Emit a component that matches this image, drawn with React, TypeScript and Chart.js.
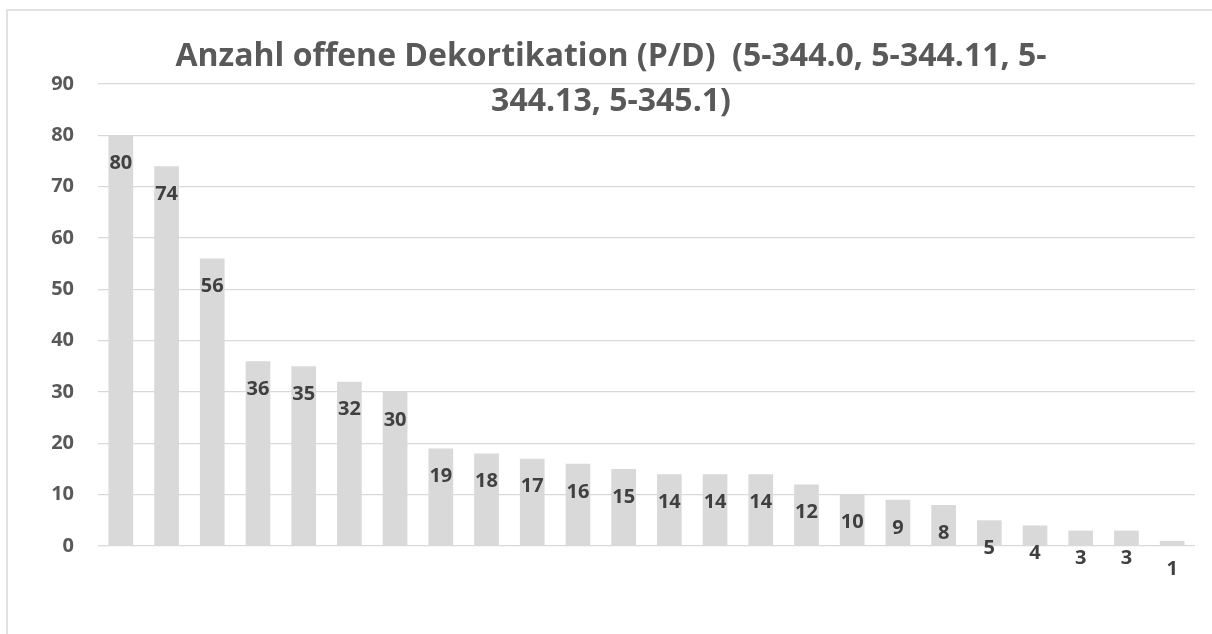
import React, { useEffect, useRef } from "react";
import { Chart, registerables } from "chart.js";

Chart.register(...registerables);

const titleLines = [
  "Anzahl offene Dekortikation (P/D)  (5-344.0, 5-344.11, 5-",
  "344.13, 5-345.1)",
];
const categories = [
  "1", "2", "3", "4", "5", "6", "7", "8", "9", "10", "11", "12",
  "13", "14", "15", "16", "17", "18", "19", "20", "21", "22", "23", "24",
];
const values = [80, 74, 56, 36, 35, 32, 30, 19, 18, 17, 16, 15, 14, 14, 14, 12, 10, 9, 8, 5, 4, 3, 3, 1];
const yTicks = [0, 10, 20, 30, 40, 50, 60, 70, 80, 90];

const FONT = "'Open Sans', Lato, sans-serif";

const framePlugin = {
  id: "frame",
  beforeDraw(chart: any) {
    const ctx = chart.ctx;
    ctx.save();
    ctx.fillStyle = "#ffffff";
    ctx.fillRect(0, 0, chart.width, chart.height);
    ctx.strokeStyle = "#d9d9d9";
    ctx.lineWidth = 1.5;
    ctx.strokeRect(7, 10, chart.width + 20, chart.height + 20);
    ctx.restore();
  },
};

const titlePlugin = {
  id: "customTitle",
  afterDraw(chart: any) {
    const ctx = chart.ctx;
    ctx.save();
    ctx.fillStyle = "#595959";
    ctx.font = `bold 32px ${FONT}`;
    ctx.textAlign = "center";
    ctx.textBaseline = "alphabetic";
    const cx = 611;
    ctx.fillText(titleLines[0], cx, 66);
    ctx.fillText(titleLines[1], cx, 111);
    ctx.restore();
  },
};

const labelPlugin = {
  id: "insideEndLabels",
  afterDatasetsDraw(chart: any) {
    const ctx = chart.ctx;
    const meta = chart.getDatasetMeta(0);
    ctx.save();
    ctx.fillStyle = "#404040";
    ctx.font = `bold 20px ${FONT}`;
    ctx.textAlign = "center";
    ctx.textBaseline = "middle";
    meta.data.forEach((bar: any, i: number) => {
      ctx.fillText(String(values[i]), bar.x, bar.y + 28);
    });
    ctx.restore();
  },
};

export default function App() {
  const ref = useRef<HTMLCanvasElement | null>(null);
  useEffect(() => {
    document.body.style.margin = "0";
    document.body.style.overflow = "hidden";
    const chart = new Chart(ref.current as HTMLCanvasElement, {
      type: "bar",
      data: {
        labels: categories,
        datasets: [
          {
            data: values,
            backgroundColor: "#d9d9d9",
            borderWidth: 0,
            barPercentage: 0.54,
            categoryPercentage: 1,
          },
        ],
      },
      options: {
        animation: false,
        responsive: false,
        maintainAspectRatio: false,
        layout: { padding: { left: 0, right: 17, top: 84, bottom: 88 } },
        plugins: {
          legend: { display: false },
          title: { display: false },
          tooltip: { enabled: false },
        },
        scales: {
          x: {
            grid: { display: false },
            border: { display: false },
            ticks: { display: false },
            afterFit(scale: any) {
              scale.height = 0;
            },
          },
          y: {
            min: 0,
            max: 90,
            afterBuildTicks(scale: any) {
              scale.ticks = yTicks.map((v) => ({ value: v }));
            },
            grid: { color: "#d9d9d9", lineWidth: 1.3, drawTicks: false },
            border: { display: false },
            ticks: {
              padding: 24,
              color: "#595959",
              font: { family: FONT, size: 20, weight: "bold" },
            },
            afterFit(scale: any) {
              scale.width = 98;
            },
          },
        },
      },
      plugins: [framePlugin, titlePlugin, labelPlugin],
    });
    return () => chart.destroy();
  }, []);
  return (
    <div style={{ position: "fixed", left: 0, top: 0, width: 1212, height: 634 }}>
      <canvas ref={ref} width={1212} height={634} style={{ width: 1212, height: 634, display: "block" }} />
    </div>
  );
}
